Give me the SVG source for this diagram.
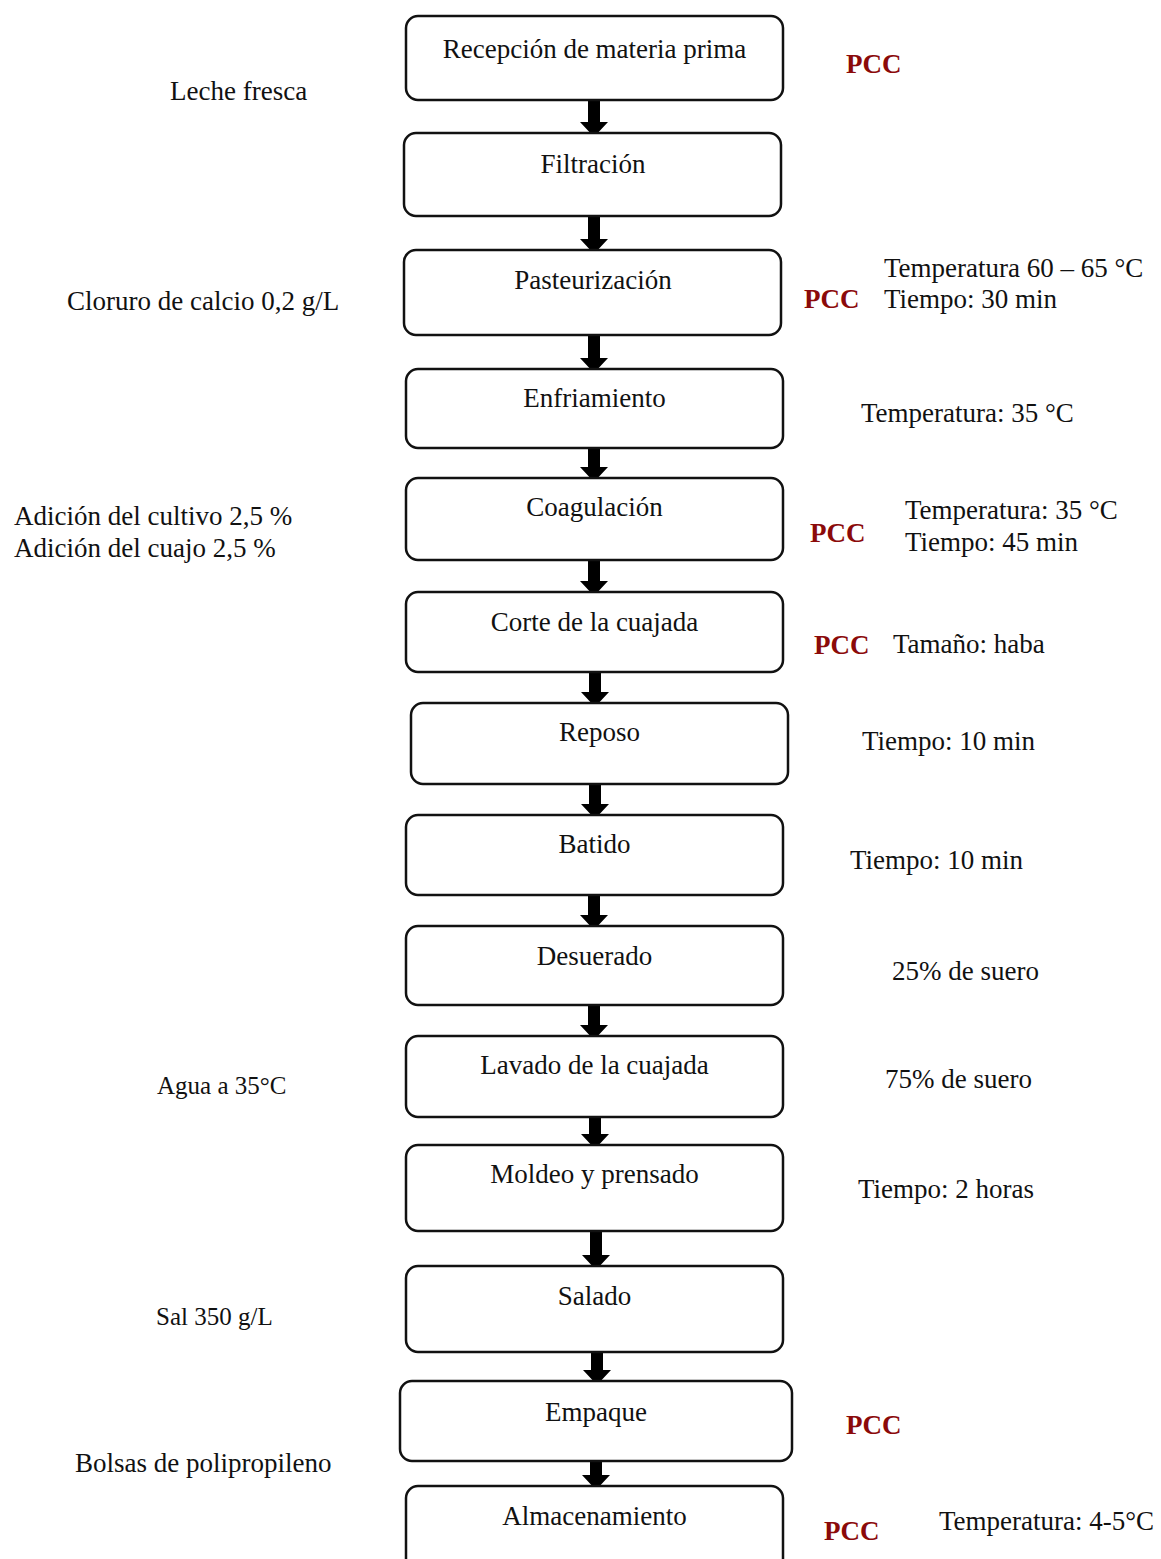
<svg xmlns="http://www.w3.org/2000/svg" width="1161" height="1559" viewBox="0 0 1161 1559">
<style>
.box{fill:#fff;stroke:#111;stroke-width:2.5}
.t{font-family:"Liberation Serif","Times New Roman",serif;font-size:27px;fill:#111}
.c{text-anchor:middle}
.s{font-size:25px}
.pcc{font-family:"Liberation Serif","Times New Roman",serif;font-size:27px;font-weight:bold;fill:#8b0a0a}
.arr{fill:#000}
</style>
<rect width="1161" height="1559" fill="#fff"/>
<g id="connectors">
<path class="arr" d="M588,100 H600 V122 H608 L594,137 L580,122 H588 Z"/>
<path class="arr" d="M588,216 H600 V239 H608 L594,254 L580,239 H588 Z"/>
<path class="arr" d="M588,335 H600 V358 H608 L594,373 L580,358 H588 Z"/>
<path class="arr" d="M588,448 H600 V467 H608 L594,482 L580,467 H588 Z"/>
<path class="arr" d="M588,560 H600 V581 H608 L594,596 L580,581 H588 Z"/>
<path class="arr" d="M589,672 H601 V692 H609 L595,707 L581,692 H589 Z"/>
<path class="arr" d="M589,784 H601 V804 H609 L595,819 L581,804 H589 Z"/>
<path class="arr" d="M588,895 H600 V915 H608 L594,930 L580,915 H588 Z"/>
<path class="arr" d="M588,1005 H600 V1025 H608 L594,1040 L580,1025 H588 Z"/>
<path class="arr" d="M589,1117 H601 V1134 H609 L595,1149 L581,1134 H589 Z"/>
<path class="arr" d="M590,1231 H602 V1255 H610 L596,1270 L582,1255 H590 Z"/>
<path class="arr" d="M591,1352 H603 V1370 H611 L597,1385 L583,1370 H591 Z"/>
<path class="arr" d="M590,1461 H602 V1475 H610 L596,1490 L582,1475 H590 Z"/>
</g>
<g id="n1"><rect class="box" x="406" y="16" width="377" height="84" rx="12"/><text class="t c" x="594.5" y="58">Recepción de materia prima</text></g>
<g id="n2"><rect class="box" x="404" y="133" width="377" height="83" rx="12"/><text class="t c" x="593" y="173">Filtración</text></g>
<g id="n3"><rect class="box" x="404" y="250" width="377" height="85" rx="12"/><text class="t c" x="593" y="289">Pasteurización</text></g>
<g id="n4"><rect class="box" x="406" y="369" width="377" height="79" rx="12"/><text class="t c" x="594.5" y="407">Enfriamiento</text></g>
<g id="n5"><rect class="box" x="406" y="478" width="377" height="82" rx="12"/><text class="t c" x="594.5" y="516">Coagulación</text></g>
<g id="n6"><rect class="box" x="406" y="592" width="377" height="80" rx="12"/><text class="t c" x="594.5" y="631">Corte de la cuajada</text></g>
<g id="n7"><rect class="box" x="411" y="703" width="377" height="81" rx="12"/><text class="t c" x="599.5" y="741">Reposo</text></g>
<g id="n8"><rect class="box" x="406" y="815" width="377" height="80" rx="12"/><text class="t c" x="594.5" y="853">Batido</text></g>
<g id="n9"><rect class="box" x="406" y="926" width="377" height="79" rx="12"/><text class="t c" x="594.5" y="965">Desuerado</text></g>
<g id="n10"><rect class="box" x="406" y="1036" width="377" height="81" rx="12"/><text class="t c" x="594.5" y="1074">Lavado de la cuajada</text></g>
<g id="n11"><rect class="box" x="406" y="1145" width="377" height="86" rx="12"/><text class="t c" x="594.5" y="1183">Moldeo y prensado</text></g>
<g id="n12"><rect class="box" x="406" y="1266" width="377" height="86" rx="12"/><text class="t c" x="594.5" y="1305">Salado</text></g>
<g id="n13"><rect class="box" x="400" y="1381" width="392" height="80" rx="12"/><text class="t c" x="596" y="1421">Empaque</text></g>
<g id="n14"><rect class="box" x="406" y="1486" width="377" height="92" rx="12"/><text class="t c" x="594.5" y="1525">Almacenamiento</text></g>
<g id="inputs">
<text class="t" x="170" y="100">Leche fresca</text>
<text class="t" x="67" y="310">Cloruro de calcio 0,2 g/L</text>
<text class="t" x="14" y="525">Adición del cultivo 2,5 %</text>
<text class="t" x="14" y="557">Adición del cuajo 2,5 %</text>
<text class="t s" x="157" y="1094">Agua a 35°C</text>
<text class="t s" x="156" y="1325">Sal 350 g/L</text>
<text class="t" x="75" y="1472">Bolsas de polipropileno</text>
</g>
<g id="controls">
<text class="pcc" x="846" y="73">PCC</text>
<text class="t" x="884" y="277">Temperatura 60 – 65 °C</text>
<text class="pcc" x="804" y="308">PCC</text>
<text class="t" x="884" y="308">Tiempo: 30 min</text>
<text class="t" x="861" y="422">Temperatura: 35 °C</text>
<text class="t" x="905" y="519">Temperatura: 35 °C</text>
<text class="pcc" x="810" y="542">PCC</text>
<text class="t" x="905" y="551">Tiempo: 45 min</text>
<text class="pcc" x="814" y="654">PCC</text>
<text class="t" x="893" y="653">Tamaño: haba</text>
<text class="t" x="862" y="750">Tiempo: 10 min</text>
<text class="t" x="850" y="869">Tiempo: 10 min</text>
<text class="t" x="892" y="980">25% de suero</text>
<text class="t" x="885" y="1088">75% de suero</text>
<text class="t" x="858" y="1198">Tiempo: 2 horas</text>
<text class="pcc" x="846" y="1434">PCC</text>
<text class="pcc" x="824" y="1540">PCC</text>
<text class="t" x="939" y="1530">Temperatura: 4-5°C</text>
</g>
</svg>
